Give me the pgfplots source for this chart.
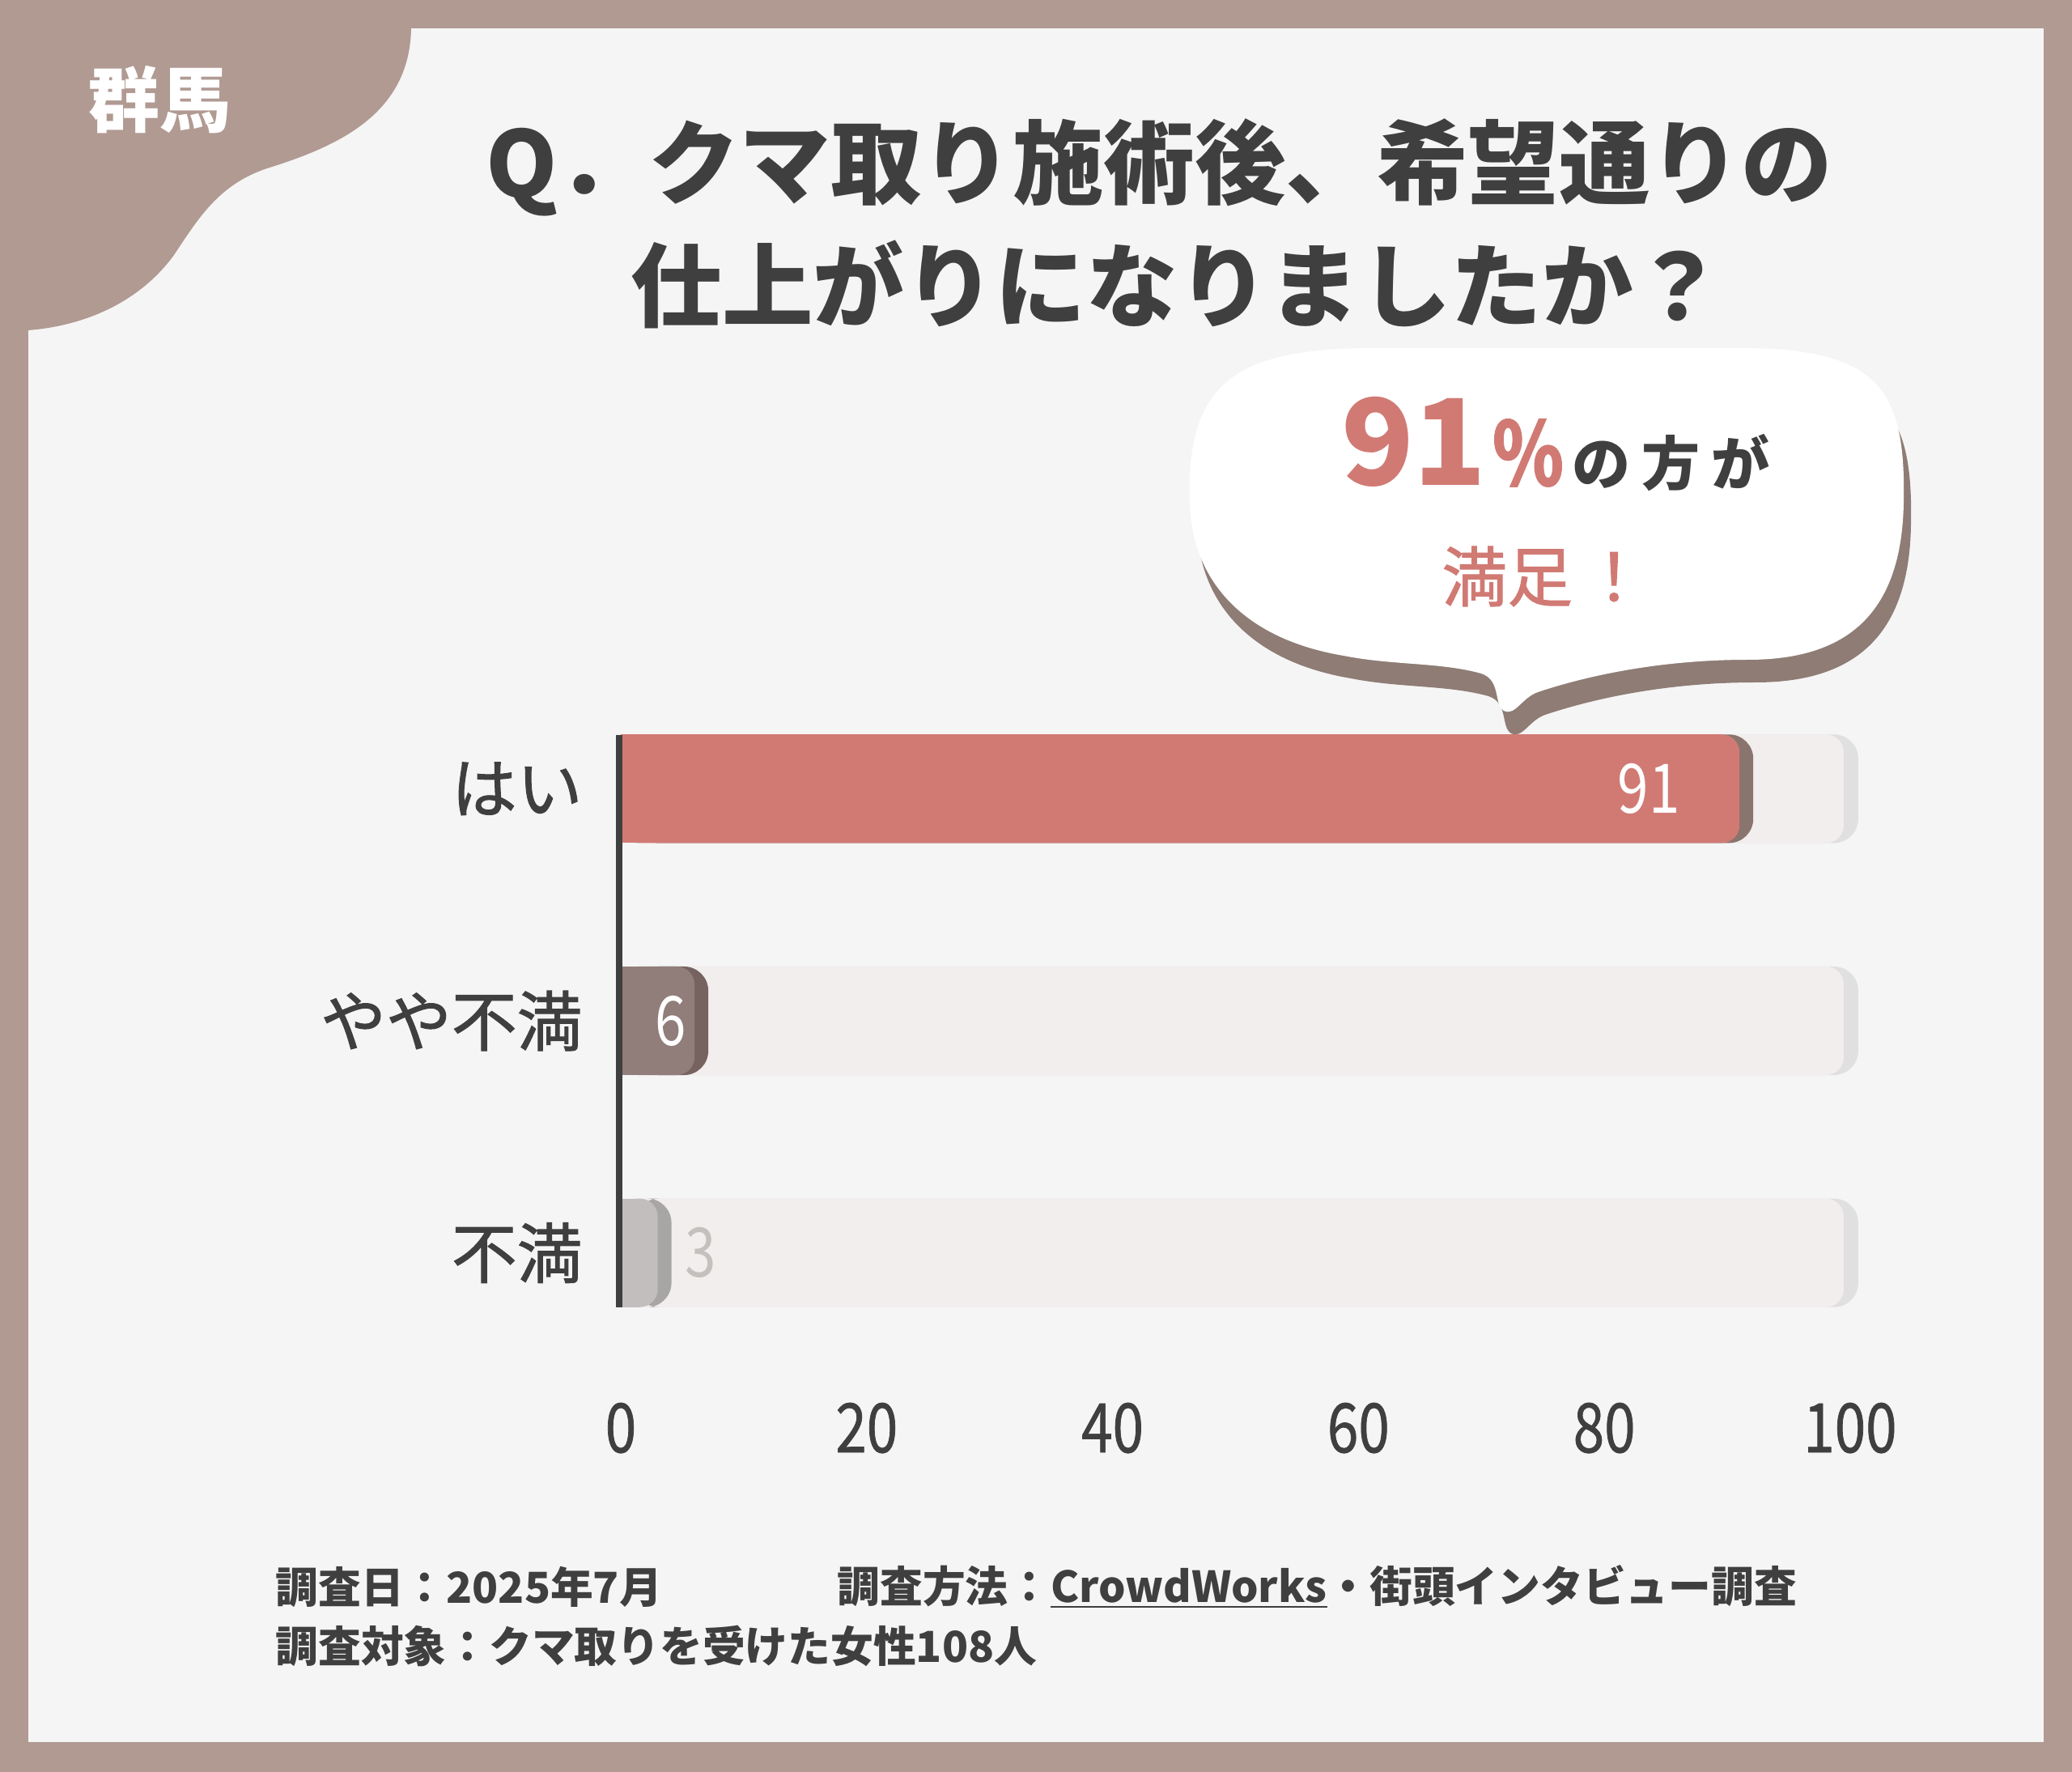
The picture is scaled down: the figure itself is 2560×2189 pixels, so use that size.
\documentclass[border=0pt]{standalone}
\usepackage{pgfplots}
\pgfplotsset{compat=1.18}
\usepackage{fontspec}
\setmainfont{Noto Sans CJK JP}
\newfontfamily\numfont[FakeStretch=0.82,FakeBold=0.8]{Noto Sans CJK JP}
\newfontfamily\numlight[FakeStretch=0.82]{Noto Sans CJK JP}
\newfontfamily\medfont[FakeBold=1.3]{Noto Sans CJK JP}
\definecolor{bordercol}{RGB}{176,154,146}
\definecolor{panel}{RGB}{246,245,245}
\definecolor{titlecol}{RGB}{63,63,63}
\definecolor{salmon}{RGB}{209,122,116}
\definecolor{salmonedge}{RGB}{137,116,110}
\definecolor{mauve}{RGB}{145,125,122}
\definecolor{mauveedge}{RGB}{118,99,95}
\definecolor{greybar}{RGB}{193,190,189}
\definecolor{greyedge}{RGB}{168,166,165}
\definecolor{track}{RGB}{241,238,237}
\definecolor{trackedge}{RGB}{225,224,224}
\definecolor{bubshadow}{RGB}{142,124,117}
\definecolor{lab3}{RGB}{196,192,190}
\begin{document}
\begin{tikzpicture}[x=0.01cm,y=-0.01cm]
\fill[bordercol] (0,0) rectangle (2560,2189);
\fill[panel] (35,35) rectangle (2525,2152);
% corner blob
\fill[bordercol] (35,35) -- (508,35) .. controls (506,140) and (420,180) .. (330,208)
  .. controls (270,228) and (245,270) .. (215,315)
  .. controls (175,370) and (110,402) .. (35,408) -- cycle;
\node[font=\bfseries\fontsize{25}{30}\selectfont, text=white] at (197,123) {群馬};
% title
\node[font=\bfseries\fontsize{32}{36}\selectfont, text=titlecol] at (1432,207) {Q．クマ取り施術後、希望通りの};
\node[font=\bfseries\fontsize{32}{36}\selectfont, text=titlecol] at (1455,351) {仕上がりになりましたか？};
% speech bubble
\begin{scope}[shift={(9,28)}]
\fill[bubshadow] (1470,620)
 .. controls (1465,470) and (1530,430) .. (1700,430) -- (2150,430)
 .. controls (2320,430) and (2355,480) .. (2352,620)
 .. controls (2350,760) and (2280,815) .. (2160,815)
 .. controls (2050,815) and (1960,835) .. (1900,855)
 .. controls (1880,862) and (1872,885) .. (1858,878)
 .. controls (1845,870) and (1855,840) .. (1830,832)
 .. controls (1780,818) and (1720,822) .. (1660,810)
 .. controls (1540,790) and (1472,720) .. (1470,620) -- cycle;
\end{scope}
\fill[white] (1470,620)
 .. controls (1465,470) and (1530,430) .. (1700,430) -- (2150,430)
 .. controls (2320,430) and (2355,480) .. (2352,620)
 .. controls (2350,760) and (2280,815) .. (2160,815)
 .. controls (2050,815) and (1960,835) .. (1900,855)
 .. controls (1880,862) and (1872,885) .. (1858,878)
 .. controls (1845,870) and (1855,840) .. (1830,832)
 .. controls (1780,818) and (1720,822) .. (1660,810)
 .. controls (1540,790) and (1472,720) .. (1470,620) -- cycle;
\node[anchor=base, inner sep=0pt] at (1922,600) {\textcolor{salmon}{\bfseries\fontsize{42}{48}\selectfont 91\kern2pt{\numfont\fontsize{31}{40}\selectfont\%}}\kern3pt\textcolor{titlecol}{\bfseries\fontsize{20.5}{26}\selectfont の\kern4pt 方\kern4pt が}};
\node[text=salmon, font=\medfont\fontsize{23}{28}\selectfont] at (1908,712) {満足\kern3pt！};
% footnotes
\node[anchor=west, inner sep=0pt, text=titlecol, font=\bfseries\fontsize{15}{18}\selectfont] at (340,1960) {調査日：2025年7月};
\node[anchor=west, inner sep=0pt, text=titlecol, font=\bfseries\fontsize{15}{18}\selectfont] at (1034,1960) {調査方法：\underline{CrowdWorks}・街頭インタビュー調査};
\node[anchor=west, inner sep=0pt, text=titlecol, font=\bfseries\fontsize{15}{18}\selectfont] at (340,2033) {調査対象：クマ取りを受けた女性108人};
% chart
\coordinate (axorig) at (767,1691);
\begin{axis}[
 at={(axorig)}, anchor=south west,
 width=15.484cm, height=8.595cm, scale only axis,
 xmin=0, xmax=102, ymin=-0.5, ymax=2.5, y dir=reverse,
 axis line style={draw=none}, major tick length=0pt,
 /pgf/number format/assume math mode=true,
 xtick={0,20,40,60,80,100}, xticklabels={0,20,40,60,80,100},
 ytick={0,1,2}, yticklabels={はい,やや不満,不満},
 xticklabel style={font=\numfont\fontsize{24}{28}\selectfont, text=titlecol, anchor=center, yshift=-0.73cm},
 yticklabel style={font=\medfont\fontsize{23}{26}\selectfont, text=titlecol, anchor=east, xshift=-0.35cm},
 every axis plot/.append style={xbar, bar width=1.34cm, bar shift=0pt, draw=none},
]
% track
\addplot[fill=trackedge, rounded corners=0.3cm, xshift=0.1cm] coordinates {(100,0) (100,1) (100,2)};
\addplot[fill=track, xshift=-0.3cm] coordinates {(100,0) (100,1) (100,2)};
\addplot[fill=track, rounded corners=0.22cm, xshift=-0.08cm] coordinates {(100,0) (100,1) (100,2)};
% はい
\addplot[fill=salmonedge, rounded corners=0.3cm, xshift=0.17cm] coordinates {(91,0)};
\addplot[fill=salmon, xshift=-0.22cm] coordinates {(91,0)};
\addplot[fill=salmon, rounded corners=0.22cm] coordinates {(91,0)};
% やや不満
\addplot[fill=mauveedge, rounded corners=0.3cm, xshift=0.17cm] coordinates {(6,1)};
\addplot[fill=mauve, xshift=-0.22cm] coordinates {(6,1)};
\addplot[fill=mauve, rounded corners=0.22cm] coordinates {(6,1)};
% 不満
\addplot[fill=greyedge, rounded corners=0.3cm, xshift=0.17cm] coordinates {(3,2)};
\addplot[fill=greybar, xshift=-0.22cm] coordinates {(3,2)};
\addplot[fill=greybar, rounded corners=0.22cm] coordinates {(3,2)};
% value labels
\addplot[fill=none, point meta=x, nodes near coords, nodes near coords style={font=\numlight\fontsize{24}{28}\selectfont, text=white, anchor=center, xshift=-1.12cm}] coordinates {(91,0)};
\addplot[fill=none, point meta=x, nodes near coords, nodes near coords style={font=\numlight\fontsize{24}{28}\selectfont, text=white, anchor=center, xshift=-0.29cm}] coordinates {(6,1)};
\addplot[fill=none, point meta=x, nodes near coords, nodes near coords style={font=\numlight\fontsize{24}{28}\selectfont, text=lab3, anchor=center, xshift=0.53cm}] coordinates {(3,2)};
\end{axis}
\draw[titlecol, line width=0.087cm] (765,908) -- (765,1615);
\pgfresetboundingbox
\path[use as bounding box] (0,0) rectangle (2560,2189);
\end{tikzpicture}
\end{document}
